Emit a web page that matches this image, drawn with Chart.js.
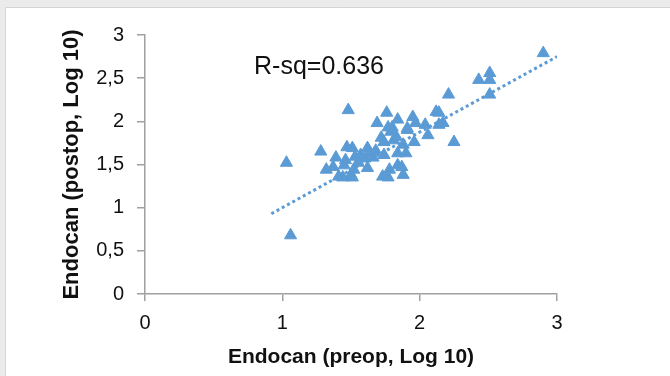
<!DOCTYPE html>
<html>
<head>
<meta charset="utf-8">
<script src="https://cdn.jsdelivr.net/npm/chart.js@4/dist/chart.umd.min.js"></script>
<style>
  html, body { margin: 0; padding: 0; background: #ebebeb; }
  #wrap { width: 670px; height: 376px; position: relative; }
</style>
</head>
<body>
<div id="wrap"><canvas id="endocan" width="670" height="376"></canvas></div>
<script>
// preop vs postop endocan (log10)
const preop = [1.03, 1.06, 1.28, 1.32, 1.37, 1.39, 1.41, 1.45, 1.46, 1.47, 1.48, 1.50, 1.51, 1.52, 1.53, 1.51,
  1.44, 1.57, 1.60, 1.62, 1.62, 1.64, 1.66, 1.68, 1.69, 1.72, 1.73, 1.74, 1.76, 1.77, 1.78, 1.79,
  1.77, 1.81, 1.84, 1.84, 1.84, 1.87, 1.88, 1.88, 1.90, 1.91, 1.91, 1.95, 1.96, 1.97, 2.04, 2.06,
  2.12, 2.14, 2.14, 2.17, 2.21, 2.25, 2.43, 2.51, 2.51, 2.51, 2.90, 1.74, 1.80, 1.83, 1.55];
const postop = [1.52, 0.68, 1.65, 1.44, 1.47, 1.58, 1.36, 1.49, 1.55, 1.70, 2.13, 1.38, 1.69, 1.44, 1.59, 1.35,
  1.35, 1.61, 1.57, 1.46, 1.69, 1.63, 1.58, 1.66, 1.98, 1.81, 1.36, 1.61, 2.10, 1.93, 1.44, 1.88,
  1.35, 1.78, 2.02, 1.63, 1.49, 1.47, 1.73, 1.38, 1.63, 1.90, 1.92, 2.05, 1.76, 1.98, 1.96, 1.84,
  2.11, 2.10, 1.96, 1.98, 2.31, 1.76, 2.48, 2.56, 2.48, 2.31, 2.79, 1.76, 1.93, 1.82, 1.52];

// linear trend line end points
const trendX = [0.92, 3.0];
const trendY = [0.93, 2.75];

const yTickLabels = ['0', '0,5', '1', '1,5', '2', '2,5', '3'];
const xTickLabels = ['0', '1', '2', '3'];
const rsqLabel = 'R-sq=0.636';

const azul = '#5b9bd5';

const puntos = preop.map((x, i) => ({ x: x, y: postop[i] }));
const tendencia = trendX.map((x, i) => ({ x: x, y: trendY[i] }));

// frame around the figure + R-sq text
const marco = {
  id: 'marco',
  beforeDraw(chart) {
    const c = chart.ctx;
    c.save();
    c.fillStyle = '#ebebeb';
    c.fillRect(0, 0, chart.width, chart.height);
    c.fillStyle = '#ffffff';
    c.fillRect(5, 7, chart.width, chart.height);
    c.strokeStyle = '#d4d4d4';
    c.lineWidth = 1;
    c.beginPath();
    c.moveTo(5.5, chart.height);
    c.lineTo(5.5, 7.5);
    c.lineTo(chart.width, 7.5);
    c.stroke();
    c.restore();
  },
  afterDraw(chart) {
    const c = chart.ctx;
    c.save();
    c.fillStyle = '#111';
    c.font = '25px "Liberation Sans", Arial, sans-serif';
    c.textBaseline = 'alphabetic';
    c.fillText(rsqLabel, 254, 74);
    c.restore();
  }
};

new Chart(document.getElementById('endocan').getContext('2d'), {
  type: 'scatter',
  data: {
    datasets: [{
      label: 'Endocan',
      data: puntos,
      pointStyle: 'triangle',
      pointRadius: 7,
      pointHoverRadius: 7,
      backgroundColor: azul,
      borderColor: azul,
      borderWidth: 1,
      order: 0
    }, {
      type: 'line',
      label: 'Tendencia',
      data: tendencia,
      borderColor: azul,
      borderWidth: 3,
      borderDash: [3, 3],
      pointRadius: 0,
      fill: false,
      order: 1
    }]
  },
  options: {
    responsive: false,
    animation: false,
    devicePixelRatio: 1,
    layout: { padding: { left: 0, top: 35, right: 113, bottom: 0 } },
    plugins: {
      legend: { display: false },
      tooltip: { enabled: false }
    },
    scales: {
      x: {
        type: 'linear',
        min: 0,
        max: 3,
        ticks: {
          stepSize: 1,
          padding: 10,
          color: '#111',
          font: { family: '"Liberation Sans", Arial, sans-serif', size: 20 },
          callback: (v, i) => xTickLabels[i]
        },
        grid: { drawOnChartArea: false, drawTicks: true, tickLength: 7, color: '#a0a0a0', lineWidth: 1.5 },
        border: { color: '#a0a0a0', width: 1.5 },
        title: {
          display: true,
          text: 'Endocan (preop, Log 10)',
          color: '#111',
          font: { family: '"Liberation Sans", Arial, sans-serif', size: 21, weight: 'bold' },
          padding: { top: 0, bottom: 6 }
        },
        afterFit: (s) => { s.height = 82; }
      },
      y: {
        type: 'linear',
        min: 0,
        max: 3,
        ticks: {
          stepSize: 0.5,
          padding: 13,
          color: '#111',
          font: { family: '"Liberation Sans", Arial, sans-serif', size: 20 },
          callback: (v, i) => yTickLabels[i]
        },
        grid: { drawOnChartArea: false, drawTicks: true, tickLength: 8, color: '#a0a0a0', lineWidth: 1.5 },
        border: { color: '#a0a0a0', width: 1.5 },
        title: {
          display: true,
          text: 'Endocan (postop, Log 10)',
          color: '#111',
          font: { family: '"Liberation Sans", Arial, sans-serif', size: 22, weight: 'bold' },
          padding: { top: 59, bottom: 0 }
        },
        afterFit: (s) => { s.width = 145; }
      }
    }
  },
  plugins: [marco]
});
</script>
</body>
</html>
